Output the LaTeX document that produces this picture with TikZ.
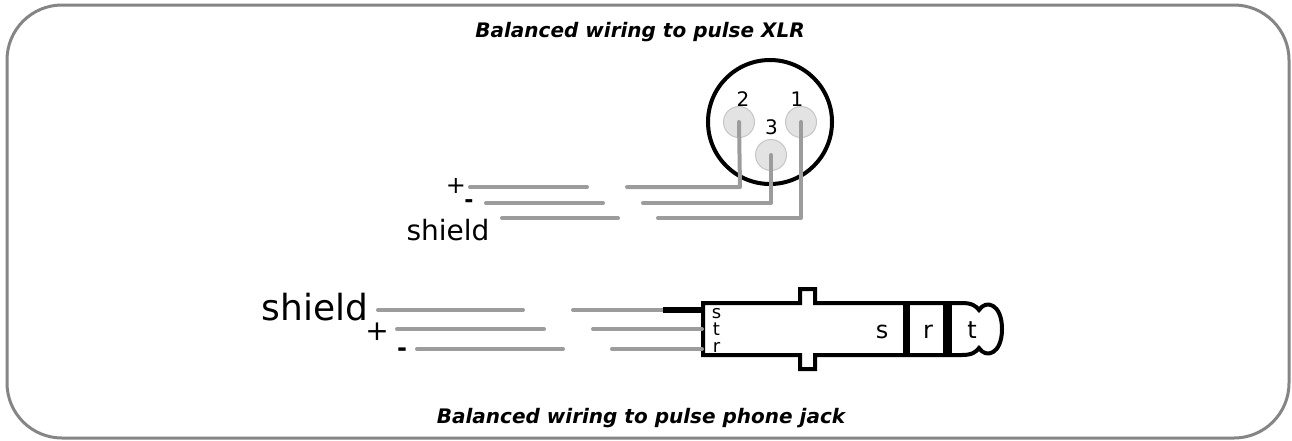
\documentclass[tikz,border=0pt]{standalone}
\usepackage{fontspec}
\setmainfont{DejaVu Sans}
\usepackage{tikz}
\definecolor{edge}{HTML}{858585}
\definecolor{wire}{HTML}{9C9C9C}
\definecolor{pinbg}{HTML}{E3E3E3}
\definecolor{pinline}{HTML}{C6C6C6}
\tikzset{
  border/.style={draw=edge, line width=3pt, rounded corners=55pt},
  wireline/.style={draw=wire, line width=4pt, line cap=round, line join=round},
  xlrpin/.style={circle, draw=pinline, fill=pinbg, line width=1pt, minimum size=31pt, inner sep=0pt},
  plug/.style={draw=black, line width=4pt},
  title/.style={font=\bfseries\itshape\fontsize{20}{24}\selectfont, inner sep=0pt},
  lab/.style={inner sep=0pt, text=black},
  tiny/.style={lab, anchor=base, font=\fontsize{18}{18}\selectfont}
}
\begin{document}
\begin{tikzpicture}[x=1pt, y=-1pt]
  \useasboundingbox (0,0) rectangle (1292,440);
  \draw[border] (7,5) rectangle (1289,438);

  \node[title, anchor=base] (top) at (640,37) {Balanced wiring to pulse XLR};
  \node[title, anchor=base] (bottom) at (641,423) {Balanced wiring to pulse phone jack};

  % XLR connector
  \draw[line width=4pt] (770,122) circle (62);
  \node[xlrpin] (p2) at (739,122) {};
  \node[xlrpin] (p1) at (801,122) {};
  \node[xlrpin] (p3) at (771,155) {};
  \node[lab, font=\fontsize{20}{22}\selectfont] (n2) at (743,99.5) {2};
  \node[lab, font=\fontsize{20}{22}\selectfont] (n1) at (797,99.5) {1};
  \node[lab, font=\fontsize{20}{22}\selectfont] (n3) at (771.5,127.5) {3};

  % cable to XLR
  \coordinate (xa1) at (470,187);  \coordinate (xa2) at (587,187);
  \coordinate (xa3) at (627,187);  \coordinate (xa4) at (740,187);
  \coordinate (xb1) at (486,203);  \coordinate (xb2) at (603,203);
  \coordinate (xb3) at (643,203);  \coordinate (xb4) at (771,203);
  \coordinate (xc1) at (502,218);  \coordinate (xc2) at (618,218);
  \coordinate (xc3) at (658,218);  \coordinate (xc4) at (801,218);
  \draw[wireline] (xa1) -- (xa2);
  \draw[wireline] (xa3) -- (xa4) -- (p2.center);
  \draw[wireline] (xb1) -- (xb2);
  \draw[wireline] (xb3) -- (xb4) -- (p3.center);
  \draw[wireline] (xc1) -- (xc2);
  \draw[wireline] (xc3) -- (xc4) -- (p1.center);
  \node[lab, font=\fontsize{24}{26}\selectfont] (xplus) at (456,186) {+};
  \node[lab, font=\fontsize{22}{24}\selectfont\bfseries] (xminus) at (469,204) {-};
  \node[lab, font=\fontsize{28}{32}\selectfont, anchor=base] (xshield) at (448,240) {shield};

  % phone jack
  \draw[plug] (703,303) -- (800,303) -- (800,289) -- (815,289) -- (815,303) -- (952,303)
    -- (962,303) .. controls (972,303) and (976,306) .. (979,310)
    .. controls (986,299) and (1002,304) .. (1002,329)
    .. controls (1002,354) and (986,359) .. (979,348)
    .. controls (976,352) and (972,355) .. (962,355)
    -- (815,355) -- (815,369) -- (800,369) -- (800,355) -- (703,355) -- cycle;
  \fill (903,303) rectangle (910,355);
  \fill (943,303) rectangle (952,355);
  \node[tiny] (ls) at (716.5,318) {s};
  \node[tiny] (lt) at (716.5,335) {t};
  \node[tiny] (lr) at (716.5,352) {r};
  \node[lab, font=\fontsize{24}{28}\selectfont, anchor=base] (js) at (882,338) {s};
  \node[lab, font=\fontsize{24}{28}\selectfont, anchor=base] (jr) at (928,338) {r};
  \node[lab, font=\fontsize{24}{28}\selectfont, anchor=base] (jt) at (972,338) {t};

  % cable to phone jack
  \coordinate (ja1) at (378,310);  \coordinate (ja2) at (523,310);
  \coordinate (ja3) at (573,310);  \coordinate (ja4) at (663,310);
  \coordinate (ja5) at (703,310);
  \coordinate (jb1) at (397,329);  \coordinate (jb2) at (544,329);
  \coordinate (jb3) at (593,329);  \coordinate (jb4) at (702,329);
  \coordinate (jc1) at (417,349);  \coordinate (jc2) at (563,349);
  \coordinate (jc3) at (612,349);  \coordinate (jc4) at (702,349);
  \draw[wireline] (ja1) -- (ja2);
  \draw[wireline] (ja3) -- (ja4);
  \draw[line width=6.5pt] (ja4) -- (ja5);
  \draw[wireline] (jb1) -- (jb2);
  \draw[wireline] (jb3) -- (jb4);
  \draw[wireline] (jc1) -- (jc2);
  \draw[wireline] (jc3) -- (jc4);
  \node[lab, font=\fontsize{36}{40}\selectfont, anchor=base] (jshield) at (315,320) {shield};
  \node[lab, font=\fontsize{28}{32}\selectfont] (jplus) at (377,332) {+};
  \node[lab, font=\fontsize{24}{28}\selectfont\bfseries] (jminus) at (402,352) {-};
\end{tikzpicture}
\end{document}
